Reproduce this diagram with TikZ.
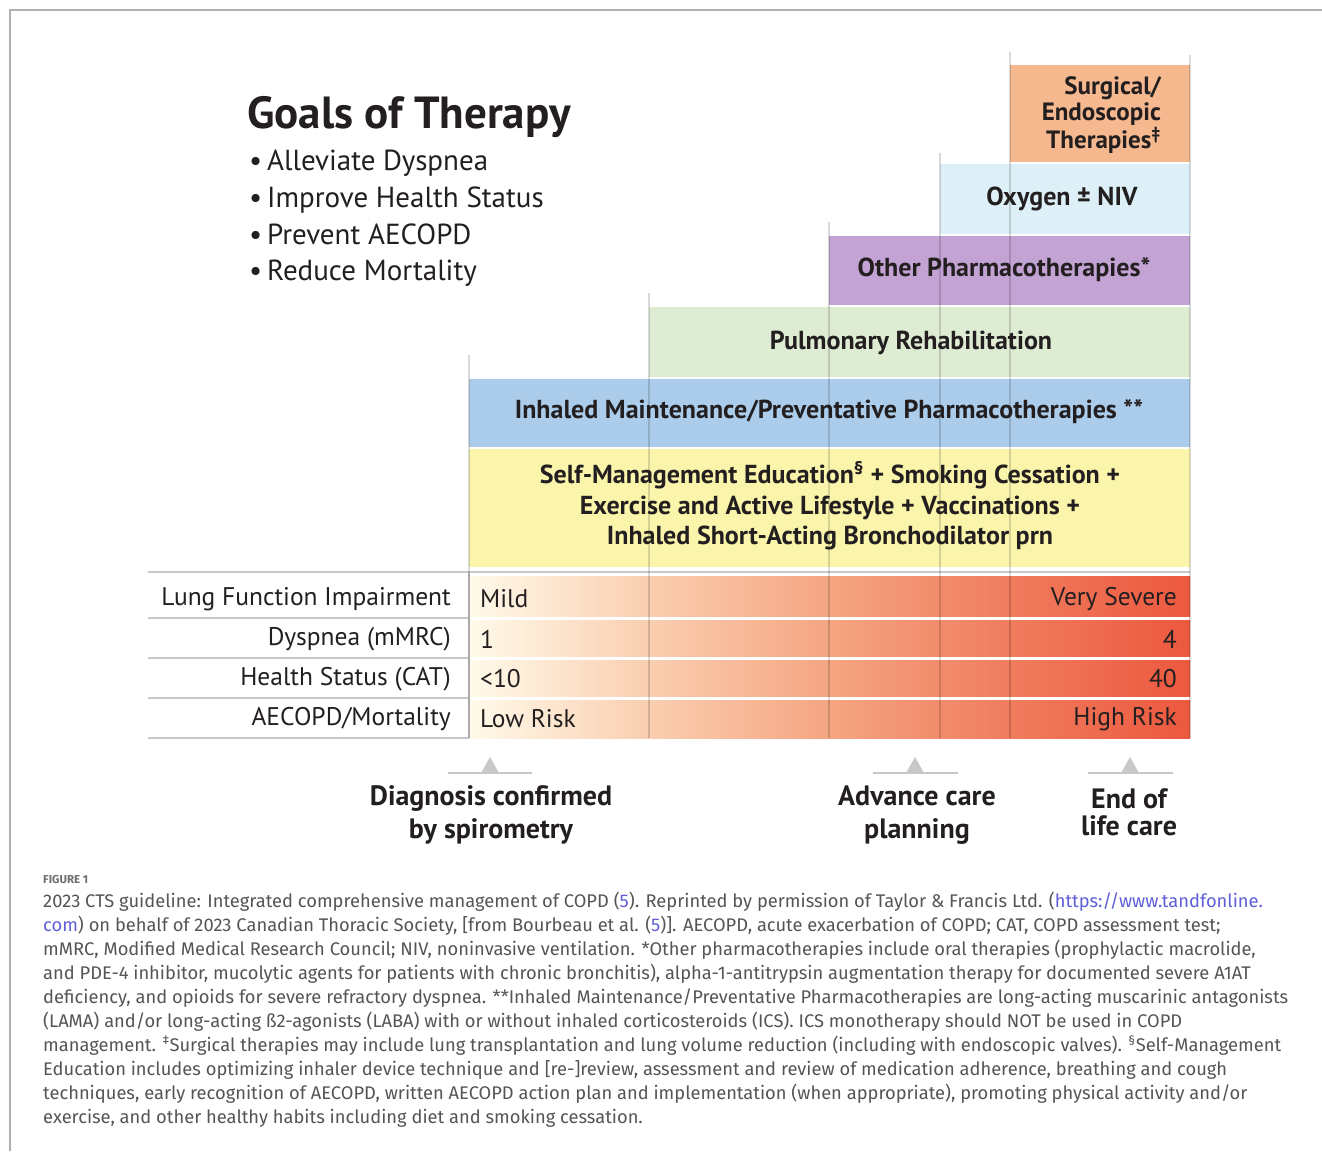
\documentclass[tikz,border=0pt]{standalone}
\usepackage{fontspec}
\setmainfont{PT Sans}
\newfontfamily\capfam{Fira Sans}

% step colours
\definecolor{surg}{RGB}{246,184,142}
\definecolor{oxy}{RGB}{221,240,248}
\definecolor{othr}{RGB}{195,163,212}
\definecolor{pulm}{RGB}{221,236,211}
\definecolor{inhl}{RGB}{171,205,235}
\definecolor{ybase}{RGB}{250,245,170}
\definecolor{gridln}{RGB}{200,200,200}
\definecolor{framegray}{RGB}{175,175,175}
\definecolor{txt}{RGB}{35,31,32}
\definecolor{capgray}{RGB}{85,85,85}
\definecolor{link}{RGB}{95,95,215}
% risk gradient stops
\definecolor{rk0}{RGB}{255,250,234}
\definecolor{rk1}{RGB}{250,206,176}
\definecolor{rk2}{RGB}{245,165,130}
\definecolor{rk3}{RGB}{240,124,94}
\definecolor{rk4}{RGB}{236,88,62}
\pgfdeclarehorizontalshading{risk}{100bp}{color(0bp)=(rk0); color(25bp)=(rk0);
  color(37.5bp)=(rk1); color(50bp)=(rk2); color(62.5bp)=(rk3);
  color(75bp)=(rk4); color(100bp)=(rk4)}

\newlength\capw

\begin{document}
% caption size: the widest line spans the text block
\settowidth{\capw}{\capfam\fontsize{10pt}{12pt}\selectfont deficiency, and opioids for severe refractory dyspnea. **Inhaled Maintenance/Preventative Pharmacotherapies are long-acting muscarinic antagonists}%
\pgfmathsetmacro{\capsz}{10*1245/\capw}%
\begin{tikzpicture}[x=1pt,y=-1pt,
  frameln/.style={draw=framegray, line width=1.2},
  stepln/.style={draw=black, opacity=0.15, line width=1.2},
  bartxt/.style={text=txt, align=center, inner sep=0,
    font=\bfseries\fontsize{26}{30}\selectfont},
  lbl/.style={text=txt, anchor=east, inner sep=0, font=\fontsize{25.5}{28}\selectfont},
  vall/.style={text=txt, anchor=west, inner sep=0, font=\fontsize{25.5}{28}\selectfont},
  valr/.style={text=txt, anchor=east, inner sep=0, font=\fontsize{25.5}{28}\selectfont},
  mlbl/.style={text=txt, align=center, inner sep=0, font=\bfseries\fontsize{28}{33}\selectfont},
  mkln/.style={draw=gridln, line width=2},
  mkfill/.style={fill=gridln},
  captxt/.style={anchor=base west, inner sep=0, text=capgray,
    font=\capfam\fontsize{\capsz pt}{24pt}\selectfont},
]
\useasboundingbox (0,0) rectangle (1322,1151);
\fill[white] (0,0) rectangle (1322,1151);

% outer frame
\draw[frameln] (10,1151) -- (10,10) -- (1322,10);

% goals of therapy
\node[anchor=west, inner sep=0, text=txt, font=\bfseries\fontsize{45}{52}\selectfont] (goals) at (247,117) {Goals of Therapy};
\node[anchor=north west, inner sep=0, text=txt, align=left, font=\fontsize{29}{36.7}\selectfont] (goallist) at (249,150)
  {•\,Alleviate Dyspnea\\•\,Improve Health Status\\•\,Prevent AECOPD\\•\,Reduce Mortality};

% treatment steps
\fill[surg] (1010,65) rectangle (1190,162);
\fill[oxy]  (940,164) rectangle (1190,234);
\fill[othr] (829,236) rectangle (1190,305);
\fill[pulm] (649,307) rectangle (1190,377);
\fill[inhl] (469,379) rectangle (1190,447);
\fill[ybase] (469,449) rectangle (1190,567);

% severity gradient
\shade[shading=risk] (469,576) rectangle (1190,738);
\foreach \yy in {618,658,698} \draw[white, line width=3] (469,\yy) -- (1190,\yy);

% table rules
\draw[gridln, line width=2.5] (148,572) -- (1190,572);
\foreach \yy in {618,658,698,738} \draw[gridln, line width=1.5] (148,\yy) -- (469,\yy);
\draw[gridln, line width=1.5] (469,572) -- (469,738);

% step dividers
\draw[stepln] (469,355) -- (469,738);
\draw[stepln] (649,293) -- (649,738);
\draw[stepln] (829,222) -- (829,738);
\draw[stepln] (940,153) -- (940,738);
\draw[stepln] (1010,52) -- (1010,738);
\draw[stepln] (1190,55) -- (1190,738);

% step labels
\node[bartxt, align=right, anchor=east, font=\bfseries\fontsize{25}{26}\selectfont] (surgt) at (1161,115)
  {Surgical/\\Endoscopic\\Therapies\textsuperscript{‡}};
\node[bartxt] (oxyt) at (1062,199) {Oxygen ± NIV};
\node[bartxt] (othrt) at (1004,270) {Other Pharmacotherapies*};
\node[bartxt] (pulmt) at (911,343) {Pulmonary Rehabilitation};
\node[bartxt] (inhlt) at (829,412) {Inhaled Maintenance/Preventative Pharmacotherapies **};
\node[bartxt, font=\bfseries\fontsize{26}{30.5}\selectfont] (ybt) at (830,506)
  {Self-Management Education\textsuperscript{\S} + Smoking Cessation +\\
   Exercise and Active Lifestyle + Vaccinations +\\
   Inhaled Short-Acting Bronchodilator prn};

% severity rows
\node[lbl] (r1) at (451,599) {Lung Function Impairment};
\node[lbl] (r2) at (451,639) {Dyspnea (mMRC)};
\node[lbl] (r3) at (451,679) {Health Status (CAT)};
\node[lbl] (r4) at (451,719) {AECOPD/Mortality};
\node[vall] (r1a) at (480,599) {Mild};
\node[vall] (r2a) at (480,639) {1};
\node[vall] (r3a) at (480,679) {<10};
\node[vall] (r4a) at (480,719) {Low Risk};
\node[valr] (r1b) at (1177,599) {Very Severe};
\node[valr] (r2b) at (1177,639) {4};
\node[valr] (r3b) at (1177,679) {40};
\node[valr] (r4b) at (1177,719) {High Risk};

% milestones
\draw[mkln] (448,773) -- (532,773);
\fill[mkfill] (481,773) -- (490,757) -- (499,773) -- cycle;
\draw[mkln] (873,773) -- (958,773);
\fill[mkfill] (906,773) -- (915,757) -- (924,773) -- cycle;
\draw[mkln] (1088,773) -- (1173,773);
\fill[mkfill] (1121,773) -- (1130,757) -- (1139,773) -- cycle;
\node[mlbl] (diag) at (491,815) {Diagnosis confirmed\\by spirometry};
\node[mlbl] (acp) at (917,815) {Advance care\\planning};
\node[mlbl, font=\bfseries\fontsize{28}{27}\selectfont] (eol) at (1129,812) {End of\\life care};

% caption
\node[anchor=base west, inner sep=0, text=capgray!85, font=\capfam\bfseries\fontsize{11.5}{14}\selectfont] (fig) at (43,883) {FIGURE 1};
\node[captxt] (c1) at (43,907) {2023 CTS guideline: Integrated comprehensive management of COPD (\textcolor{link}{5}). Reprinted by permission of Taylor \& Francis Ltd. (\textcolor{link}{https://www.tandfonline.}};
\node[captxt] (c2) at (43,931) {\textcolor{link}{com}) on behalf of 2023 Canadian Thoracic Society, [from Bourbeau et al. (\textcolor{link}{5})]. AECOPD, acute exacerbation of COPD; CAT, COPD assessment test;};
\node[captxt] (c3) at (43,955) {mMRC, Modified Medical Research Council; NIV, noninvasive ventilation. *Other pharmacotherapies include oral therapies (prophylactic macrolide,};
\node[captxt] (c4) at (43,979) {and PDE-4 inhibitor, mucolytic agents for patients with chronic bronchitis), alpha-1-antitrypsin augmentation therapy for documented severe A1AT};
\node[captxt] (c5) at (43,1003) {deficiency, and opioids for severe refractory dyspnea. **Inhaled Maintenance/Preventative Pharmacotherapies are long-acting muscarinic antagonists};
\node[captxt] (c6) at (43,1027) {(LAMA) and/or long-acting ß2-agonists (LABA) with or without inhaled corticosteroids (ICS). ICS monotherapy should NOT be used in COPD};
\node[captxt] (c7) at (43,1051) {management. \textsuperscript{‡}Surgical therapies may include lung transplantation and lung volume reduction (including with endoscopic valves). \textsuperscript{\S}Self-Management};
\node[captxt] (c8) at (43,1075) {Education includes optimizing inhaler device technique and [re-]review, assessment and review of medication adherence, breathing and cough};
\node[captxt] (c9) at (43,1099) {techniques, early recognition of AECOPD, written AECOPD action plan and implementation (when appropriate), promoting physical activity and/or};
\node[captxt] (c10) at (43,1123) {exercise, and other healthy habits including diet and smoking cessation.};
\end{tikzpicture}
\end{document}
